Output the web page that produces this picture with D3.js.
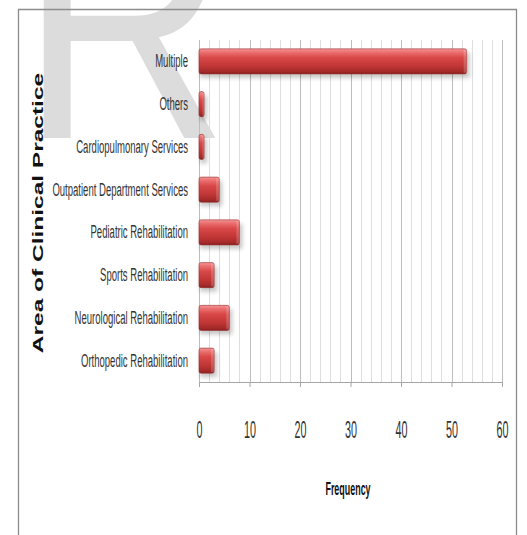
<!DOCTYPE html>
<html>
<head>
<meta charset="utf-8">
<script src="https://cdn.jsdelivr.net/npm/d3@7"></script>
<style>
  html, body { margin: 0; padding: 0; background: #fff; }
  svg { display: block; }
  text { font-family: "Liberation Sans", Arial, sans-serif; }
</style>
</head>
<body>
<svg id="chart" width="527" height="535"></svg>
<script>
// ---- data ----
const categories = [
  "Multiple",
  "Others",
  "Cardiopulmonary Services",
  "Outpatient Department Services",
  "Pediatric Rehabilitation",
  "Sports Rehabilitation",
  "Neurological Rehabilitation",
  "Orthopedic Rehabilitation"
];
const frequency = [53, 1, 1, 4, 8, 3, 6, 3];
const xTicks = [0, 10, 20, 30, 40, 50, 60];
const xTitle = "Frequency";
const yTitle = "Area of Clinical Practice";

// ---- layout ----
const svg = d3.select("#chart");
const plot = { left: 199, right: 502, top: 40, bottom: 382 };

const x = d3.scaleLinear().domain([0, 60]).range([plot.left, plot.right]);
const y = d3.scaleBand().domain(categories).range([plot.top, plot.bottom])
  .paddingInner(0.415).paddingOuter(0.2075);

// defs
const defs = svg.append("defs");
const grad = defs.append("linearGradient").attr("id", "barGrad")
  .attr("x1", 0).attr("y1", 0).attr("x2", 0).attr("y2", 1);
[[0, "#f49a9a"], [0.12, "#ec7373"], [0.35, "#d94848"], [0.7, "#c03535"], [0.9, "#a62a2a"], [1, "#8a2020"]]
  .forEach(([o, c]) => grad.append("stop").attr("offset", o).attr("stop-color", c));
const blur = defs.append("filter").attr("id", "shadow").attr("x", "-20%").attr("y", "-50%").attr("width", "140%").attr("height", "200%");
blur.append("feGaussianBlur").attr("stdDeviation", 2.2);

// watermark R
svg.append("text")
  .attr("transform", "translate(20,138) scale(0.85,1)")
  .attr("font-size", 340)
  .attr("fill", "#dcdcdc")
  .text("R");

// frame
svg.append("path")
  .attr("d", "M18.5,540 V9.5 H516.5 V540")
  .attr("fill", "none").attr("stroke", "#8c8c8c").attr("stroke-width", 1.3);

// gridlines
const gridVals = d3.range(0, 61, 2);
svg.append("g").selectAll("line").data(gridVals).join("line")
  .attr("x1", d => Math.round(x(d)) + 0.5).attr("x2", d => Math.round(x(d)) + 0.5)
  .attr("y1", plot.top).attr("y2", plot.bottom)
  .attr("stroke", d => d % 10 === 0 ? "#bdbdbd" : "#dedede")
  .attr("stroke-width", 1);

// x axis
const xAxis = svg.append("g").attr("transform", `translate(0,${plot.bottom})`)
  .call(d3.axisBottom(x).tickValues(xTicks).tickSize(5).tickSizeOuter(0));
xAxis.select(".domain").attr("stroke", "#a6a6a6");
xAxis.selectAll(".tick line").attr("stroke", "#a6a6a6");
xAxis.selectAll(".tick text")
  .attr("y", 0).attr("dy", 0)
  .attr("transform", "translate(0,56) scale(0.45,1)")
  .attr("font-size", 24)
  .attr("font-family", "'Liberation Sans', Arial, sans-serif")
  .attr("fill", "#333");

// bar shadows
svg.append("g").selectAll("rect").data(categories).join("rect")
  .attr("x", x(0) + 1)
  .attr("y", d => y(d) + 4)
  .attr("width", (d, i) => x(frequency[i]) - x(0) + 2)
  .attr("height", y.bandwidth())
  .attr("fill", "#000").attr("opacity", 0.22)
  .attr("filter", "url(#shadow)");

// bars
svg.append("g").selectAll("rect").data(categories).join("rect")
  .attr("x", x(0))
  .attr("y", d => y(d))
  .attr("width", (d, i) => x(frequency[i]) - x(0))
  .attr("height", y.bandwidth())
  .attr("rx", 2)
  .attr("fill", "url(#barGrad)")
  .attr("stroke", "#9a2a2a").attr("stroke-width", 0.6);

// end highlights
svg.append("g").selectAll("rect").data(categories).join("rect")
  .attr("x", (d, i) => x(frequency[i]) - Math.min(3, (x(frequency[i]) - x(0)) / 3))
  .attr("y", d => y(d) + 1)
  .attr("width", (d, i) => Math.min(3, (x(frequency[i]) - x(0)) / 3))
  .attr("height", y.bandwidth() - 2)
  .attr("fill", "#fff").attr("opacity", 0.18);

// y axis labels
const yAxis = svg.append("g").attr("transform", `translate(${plot.left},0)`)
  .call(d3.axisLeft(y).tickSize(0));
yAxis.select(".domain").remove();
const sxLab = 0.53;
yAxis.selectAll(".tick text")
  .attr("x", 0)
  .attr("dy", "0.33em")
  .attr("transform", `translate(-11,0) scale(${sxLab},1)`)
  .attr("font-size", 18)
  .attr("font-family", "'Liberation Sans', Arial, sans-serif")
  .attr("fill", "#333");

// x title
svg.append("text")
  .attr("transform", "translate(348,495) scale(0.47,1)")
  .attr("text-anchor", "middle")
  .attr("font-size", 19).attr("font-weight", "bold")
  .attr("fill", "#111")
  .text(xTitle);

// y title
svg.append("text")
  .attr("transform", "translate(43,213) rotate(-90) scale(1.75,1)")
  .attr("text-anchor", "middle")
  .attr("font-size", 14).attr("font-weight", "bold")
  .attr("fill", "#111")
  .text(yTitle);
</script>
</body>
</html>
